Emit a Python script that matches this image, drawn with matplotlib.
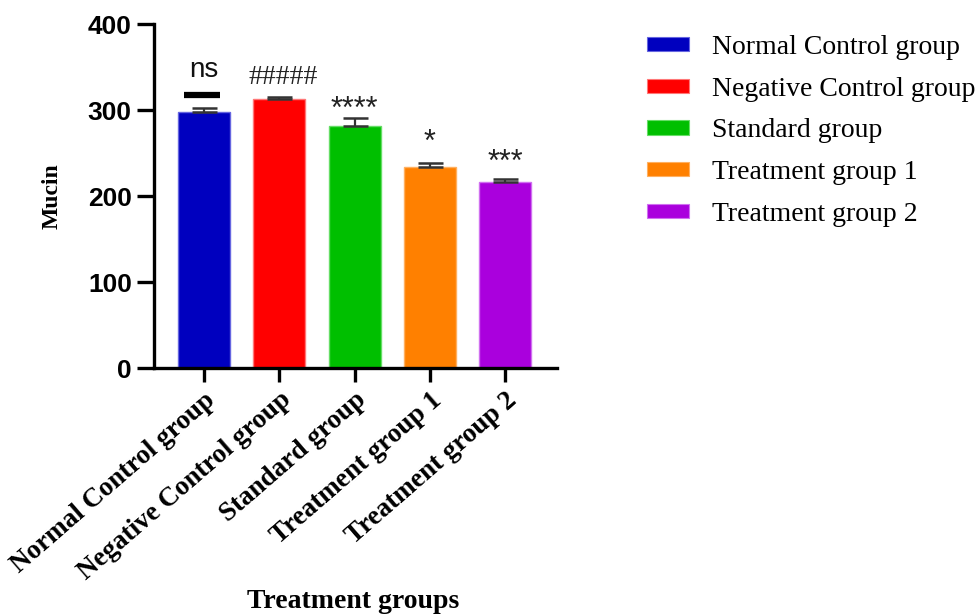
import matplotlib
matplotlib.use("Agg")
import matplotlib.pyplot as plt
from matplotlib.patches import Patch
import numpy as np

categories = ["Normal Control group", "Negative Control group", "Standard group",
              "Treatment group 1", "Treatment group 2"]
means = [297.6, 312.4, 281.7, 234.0, 215.8]
errors = [4.7, 2.4, 9.3, 4.3, 4.2]
colors = ["#0000BF", "#FF0000", "#00BF00", "#FF8000", "#AA00DD"]
edge_colors = ["#6666E0", "#FF7777", "#66DD66", "#FFB060", "#D070F0"]
annotations = ["ns", "#####", "****", "*", "***"]
annot_y = [346, 338, 300, 262, 238]
yticks = [0, 100, 200, 300, 400]

fig = plt.figure(figsize=(9.8, 6.14), dpi=100)
ax = fig.add_axes([154/980, 1-368/614, (557-154)/980, (368-24)/614])

x = np.arange(len(categories))
ax.bar(x, means, width=0.69, color=colors, edgecolor=edge_colors, linewidth=1.0, zorder=2)
ax.errorbar(x, means, yerr=[np.zeros(len(x)), errors], fmt="none", ecolor="#333333",
            elinewidth=1.6, capsize=9, capthick=1.8, zorder=3)

ax.set_xlim(-0.665, 4.69)
ax.set_ylim(0, 400)
ax.set_yticks(yticks)
ax.set_yticklabels([str(v) for v in yticks], fontfamily="Liberation Sans",
                   fontweight="bold", fontsize=19)
ax.set_xticks(x)
ax.set_xticklabels(categories, rotation=41, ha="right", rotation_mode="anchor",
                   fontfamily="Liberation Serif", fontweight="bold", fontsize=19.5)
for s in ["top", "right"]:
    ax.spines[s].set_visible(False)
for s in ["left", "bottom"]:
    ax.spines[s].set_linewidth(2.4)
ax.tick_params(axis="y", length=12, width=2.4, pad=4)
ax.tick_params(axis="x", length=10, width=2.4, pad=4)

ax.set_ylabel("Mucin", fontfamily="Liberation Serif", fontweight="bold", fontsize=17, labelpad=18)
fig.text(353/980, 1-601/614, "Treatment groups", fontfamily="Liberation Serif",
         fontweight="bold", fontsize=20, ha="center", va="center")

# annotations
for i, (t, yv) in enumerate(zip(annotations, annot_y)):
    if t == "ns":
        ax.text(x[i], yv, t, ha="center", va="center", fontfamily="Liberation Sans",
                fontsize=20, color="#111111")
    elif t.startswith("#"):
        ax.text(x[i] + 0.05, yv, t, ha="center", va="center", fontfamily="Liberation Serif",
                fontsize=20, color="#222222")
    else:
        ax.text(x[i], yv, t, ha="center", va="center", fontfamily="Liberation Sans",
                fontsize=22, color="#222222")
ax.plot([x[0] - 0.27, x[0] + 0.21], [means[0] + 20, means[0] + 20], color="black",
        linewidth=4.5, solid_capstyle="butt", zorder=3)

handles = [Patch(facecolor=c, edgecolor=e, linewidth=0.8) for c, e in zip(colors, edge_colors)]
fig.legend(handles, categories, loc="upper left", bbox_to_anchor=(647/980, 1-35/614),
           frameon=False, prop={"family": "Liberation Serif", "size": 20},
           handlelength=1.5, handleheight=0.42, handletextpad=0.85, labelspacing=0.6,
           borderpad=0, borderaxespad=0)

fig.savefig("out.png", dpi=100)
